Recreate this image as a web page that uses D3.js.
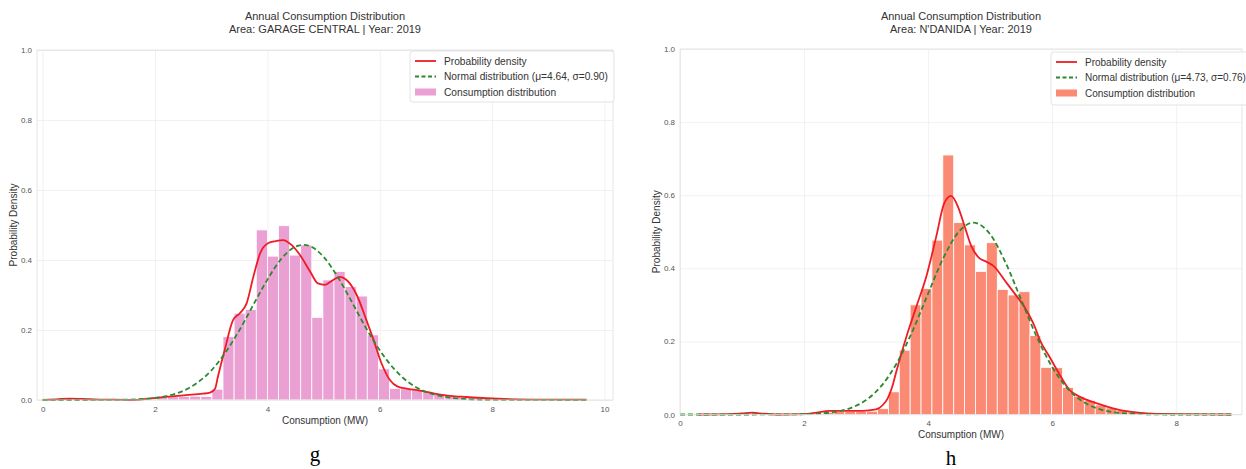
<!DOCTYPE html>
<html>
<head>
<meta charset="utf-8">
<script src="https://cdn.jsdelivr.net/npm/d3@7"></script>
<style>
  body { margin: 0; background: #fff; }
  svg { display: block; font-family: "Liberation Sans", Arial, sans-serif; }
</style>
</head>
<body>
<script>
// ---- data: panel g (GARAGE CENTRAL) ----
let gBinStart = 0.05
let gBinWidth = 0.1975
let gDensity = [0.001, 0.002, 0.003, 0.002, 0.001, 0.001, 0.001, 0.000, 0.001, 0.003,
                0.007, 0.009, 0.010, 0.011, 0.010, 0.031, 0.181, 0.248, 0.259, 0.486,
                0.411, 0.498, 0.414, 0.443, 0.236, 0.343, 0.367, 0.324, 0.297, 0.186,
                0.089, 0.033, 0.032, 0.030, 0.024, 0.017, 0.012, 0.009, 0.006, 0.004,
                0.003, 0.002, 0.002, 0.001, 0.001, 0.001, 0.001, 0.001, 0.001]
let gKdeX = [0.0, 0.25, 0.5, 0.7, 1.0, 1.3, 1.6, 1.9, 2.2, 2.55, 2.85, 2.98, 3.07, 3.12, 3.24, 3.39,
             3.51, 3.63, 3.75, 3.87, 4.01, 4.15, 4.28, 4.43, 4.58, 4.76, 4.90, 5.02, 5.17, 5.29,
             5.41, 5.59, 5.76, 5.88, 6.03, 6.18, 6.32, 6.50, 6.71, 6.95, 7.25, 7.54, 7.90, 8.43, 9.0, 9.68]
let gKdeY = [0.000, 0.002, 0.004, 0.003, 0.001, 0.001, 0.000, 0.004, 0.009, 0.014, 0.018, 0.021, 0.033, 0.067, 0.143, 0.229,
             0.248, 0.276, 0.352, 0.419, 0.448, 0.454, 0.457, 0.443, 0.414, 0.367, 0.333, 0.329, 0.343, 0.352,
             0.343, 0.300, 0.229, 0.176, 0.105, 0.057, 0.038, 0.032, 0.027, 0.019, 0.012, 0.0086, 0.005, 0.002, 0.001, 0.001]
let gNormX = [0.0, 1.0, 1.5, 2.0, 2.25, 2.5, 2.75, 3.0, 3.25, 3.5, 3.75, 4.0, 4.25, 4.5, 4.64, 4.75,
              5.0, 5.25, 5.5, 5.75, 6.0, 6.25, 6.5, 6.75, 7.0, 7.25, 7.5, 8.0, 9.68]
let gNormY = [0.000, 0.0001, 0.001, 0.006, 0.013, 0.026, 0.049, 0.084, 0.135, 0.199, 0.272, 0.344, 0.404, 0.438, 0.443, 0.440,
              0.409, 0.352, 0.281, 0.207, 0.142, 0.0895, 0.052, 0.028, 0.0142, 0.0066, 0.0028, 0.0004, 0.000]
let gXTicks = [0, 2, 4, 6, 8, 10]

// ---- data: panel h (N'DANIDA) ----
let hBinStart = 0.025
let hBinWidth = 0.1755
let hDensity = [0.000, 0.000, 0.000, 0.000, 0.001, 0.001, 0.003, 0.002, 0.001, 0.000,
                0.001, 0.001, 0.003, 0.006, 0.008, 0.009, 0.009, 0.009, 0.016, 0.062,
                0.176, 0.300, 0.345, 0.477, 0.710, 0.525, 0.464, 0.391, 0.470, 0.342,
                0.327, 0.336, 0.216, 0.129, 0.128, 0.074, 0.050, 0.038, 0.026, 0.018,
                0.012, 0.007, 0.004, 0.003, 0.002, 0.001, 0.001, 0.001, 0.001, 0.001]
let hKdeX = [0.3, 0.8, 1.0, 1.17, 1.35, 1.6, 2.0, 2.2, 2.41, 2.68, 2.94, 3.16, 3.27, 3.35, 3.42, 3.48,
             3.65, 3.81, 3.97, 4.13, 4.26, 4.37, 4.48, 4.59, 4.70, 4.83, 4.94, 5.07, 5.23, 5.39,
             5.55, 5.72, 5.80, 5.95, 6.10, 6.28, 6.44, 6.71, 6.98, 7.25, 7.52, 8.0, 8.89]
let hKdeY = [0.000, 0.001, 0.003, 0.005, 0.002, 0.000, 0.001, 0.005, 0.010, 0.010, 0.010, 0.014, 0.026, 0.045, 0.075, 0.113,
             0.213, 0.295, 0.377, 0.486, 0.578, 0.598, 0.569, 0.514, 0.459, 0.427, 0.418, 0.404, 0.368, 0.332,
             0.295, 0.240, 0.204, 0.160, 0.115, 0.067, 0.049, 0.031, 0.017, 0.0077, 0.003, 0.001, 0.000]
let hNormX = [0.0, 1.5, 2.0, 2.25, 2.5, 2.75, 3.0, 3.25, 3.5, 3.75, 4.0, 4.25, 4.5, 4.73, 5.0,
              5.25, 5.5, 5.75, 6.0, 6.25, 6.5, 6.75, 7.0, 7.25, 7.5, 8.0, 8.89]
let hNormY = [0.000, 0.0001, 0.0008, 0.0026, 0.0071, 0.0176, 0.0394, 0.0789, 0.142, 0.229, 0.331, 0.430, 0.501, 0.525, 0.493,
              0.415, 0.314, 0.213, 0.130, 0.071, 0.0349, 0.0153, 0.0061, 0.0022, 0.0007, 0.0000, 0.000]
let hXTicks = [0, 2, 4, 6, 8]

let yTicks = [0, 0.2, 0.4, 0.6, 0.8, 1.0]

// panel layout
let panels = [
  {
    area: "GARAGE CENTRAL", caption: "g", mu: "4.64", sigma: "0.90",
    binStart: gBinStart, binWidth: gBinWidth, density: gDensity,
    kdeX: gKdeX, kdeY: gKdeY, normX: gNormX, normY: gNormY, xTicks: gXTicks,
    fill: "#eba0d4",
    left: 37, right: 613, top: 50, bottom: 400, xDomain: [-0.1, 10.15],
    legend: {x: 410, y: 51, w: 204, h: 51, font: 10.2},
    yLabelX: 14, xLabelY: 424, captionY: 461
  },
  {
    area: "N'DANIDA", caption: "h", mu: "4.73", sigma: "0.76",
    binStart: hBinStart, binWidth: hBinWidth, density: hDensity,
    kdeX: hKdeX, kdeY: hKdeY, normX: hNormX, normY: hNormY, xTicks: hXTicks,
    fill: "#fa8a73",
    left: 680, right: 1242, top: 49, bottom: 414.5, xDomain: [0, 9.06],
    legend: {x: 1051, y: 52, w: 200, h: 53, font: 10},
    yLabelX: 657, xLabelY: 438, captionY: 465
  }
]

let svg = d3.select("body")
  .append("svg")
  .attr("width", 1246)
  .attr("height", 469)

panels.forEach(p => {
  let x = d3.scaleLinear().domain(p.xDomain).range([p.left, p.right])
  let y = d3.scaleLinear().domain([0, 1.0]).range([p.bottom, p.top])
  let g = svg.append("g")
  let cx = (p.left + p.right) / 2

  // grid
  g.append("g")
    .attr("transform", "translate(0," + p.bottom + ")")
    .call(d3.axisBottom(x).tickValues(p.xTicks).tickSize(-(p.bottom - p.top)).tickFormat(""))
    .call(a => a.select(".domain").remove())
    .selectAll("line").attr("stroke", "#ededed").attr("stroke-width", 0.8)
  g.append("g")
    .attr("transform", "translate(" + p.left + ",0)")
    .call(d3.axisLeft(y).tickValues(yTicks).tickSize(-(p.right - p.left)).tickFormat(""))
    .call(a => a.select(".domain").remove())
    .selectAll("line").attr("stroke", "#ededed").attr("stroke-width", 0.8)

  // histogram bars
  g.append("g")
    .selectAll("rect")
    .data(p.density)
    .enter()
    .append("rect")
    .attr("x", (d, i) => x(p.binStart + i * p.binWidth))
    .attr("width", x(p.binWidth) - x(0))
    .attr("y", d => y(d))
    .attr("height", d => y(0) - y(d))
    .attr("fill", p.fill)
    .attr("stroke", "#fff")
    .attr("stroke-width", 0.8)

  let lineOf = (xs, ys) => d3.line()
    .x(i => x(xs[i]))
    .y(i => y(ys[i]))
    .curve(d3.curveMonotoneX)(d3.range(xs.length))

  // kde
  g.append("path")
    .attr("d", lineOf(p.kdeX, p.kdeY))
    .attr("fill", "none")
    .attr("stroke", "#ee1c24")
    .attr("stroke-width", 1.8)

  // normal fit
  g.append("path")
    .attr("d", lineOf(p.normX, p.normY))
    .attr("fill", "none")
    .attr("stroke", "#2b8a2e")
    .attr("stroke-width", 1.8)
    .attr("stroke-dasharray", "5,3")

  // frame
  g.append("rect")
    .attr("x", p.left).attr("y", p.top)
    .attr("width", p.right - p.left).attr("height", p.bottom - p.top)
    .attr("fill", "none").attr("stroke", "#dedede").attr("stroke-width", 0.8)

  // tick labels
  g.append("g")
    .attr("transform", "translate(0," + p.bottom + ")")
    .call(d3.axisBottom(x).tickValues(p.xTicks).tickSize(0).tickPadding(6).tickFormat(d3.format("d")))
    .call(a => a.select(".domain").remove())
    .selectAll("text").attr("fill", "#555").style("font-size", "8px")
  g.append("g")
    .attr("transform", "translate(" + p.left + ",0)")
    .call(d3.axisLeft(y).tickValues(yTicks).tickSize(0).tickPadding(5).tickFormat(d3.format(".1f")))
    .call(a => a.select(".domain").remove())
    .selectAll("text").attr("fill", "#555").style("font-size", "8px")

  // titles
  g.append("text").attr("x", cx).attr("y", 20)
    .attr("text-anchor", "middle").attr("fill", "#333").style("font-size", "11px")
    .text("Annual Consumption Distribution")
  g.append("text").attr("x", cx).attr("y", 33)
    .attr("text-anchor", "middle").attr("fill", "#333").style("font-size", "11px")
    .text("Area: " + p.area + " | Year: 2019")

  // axis labels
  g.append("text").attr("x", cx).attr("y", p.xLabelY)
    .attr("text-anchor", "middle").attr("fill", "#333").style("font-size", "10px")
    .text("Consumption (MW)")
  g.append("text")
    .attr("transform", "translate(" + (p.yLabelX + 3) + "," + ((p.top + p.bottom) / 2) + ") rotate(-90)")
    .attr("text-anchor", "middle").attr("fill", "#333").style("font-size", "10px")
    .text("Probability Density")

  // legend
  let L = p.legend
  let lg = g.append("g")
  lg.append("rect")
    .attr("x", L.x).attr("y", L.y).attr("width", L.w).attr("height", L.h)
    .attr("rx", 3).attr("fill", "#fff").attr("fill-opacity", 0.85)
    .attr("stroke", "#dcdcdc").attr("stroke-width", 0.8)
  let rows = [
    {label: "Probability density", kind: "line"},
    {label: "Normal distribution (\u03bc=" + p.mu + ", \u03c3=" + p.sigma + ")", kind: "dash"},
    {label: "Consumption distribution", kind: "patch"}
  ]
  rows.forEach((r, i) => {
    let ry = L.y + 10 + i * 15.5
    if (r.kind === "patch") {
      lg.append("rect").attr("x", L.x + 5).attr("y", ry - 3.5).attr("width", 21).attr("height", 7)
        .attr("fill", p.fill)
    } else {
      lg.append("line").attr("x1", L.x + 5).attr("x2", L.x + 26).attr("y1", ry).attr("y2", ry)
        .attr("stroke", r.kind === "line" ? "#ee1c24" : "#2b8a2e")
        .attr("stroke-width", 1.8)
        .attr("stroke-dasharray", r.kind === "dash" ? "4,2.5" : null)
    }
    lg.append("text").attr("x", L.x + 34).attr("y", ry + 3.5)
      .attr("fill", "#333").style("font-size", L.font + "px")
      .text(r.label)
  })

  // caption
  svg.append("text").attr("x", cx - 10).attr("y", p.captionY)
    .attr("text-anchor", "middle")
    .style("font-family", "'Liberation Serif', 'DejaVu Serif', serif")
    .style("font-size", "21px")
    .text(p.caption)
})
</script>
</body>
</html>
